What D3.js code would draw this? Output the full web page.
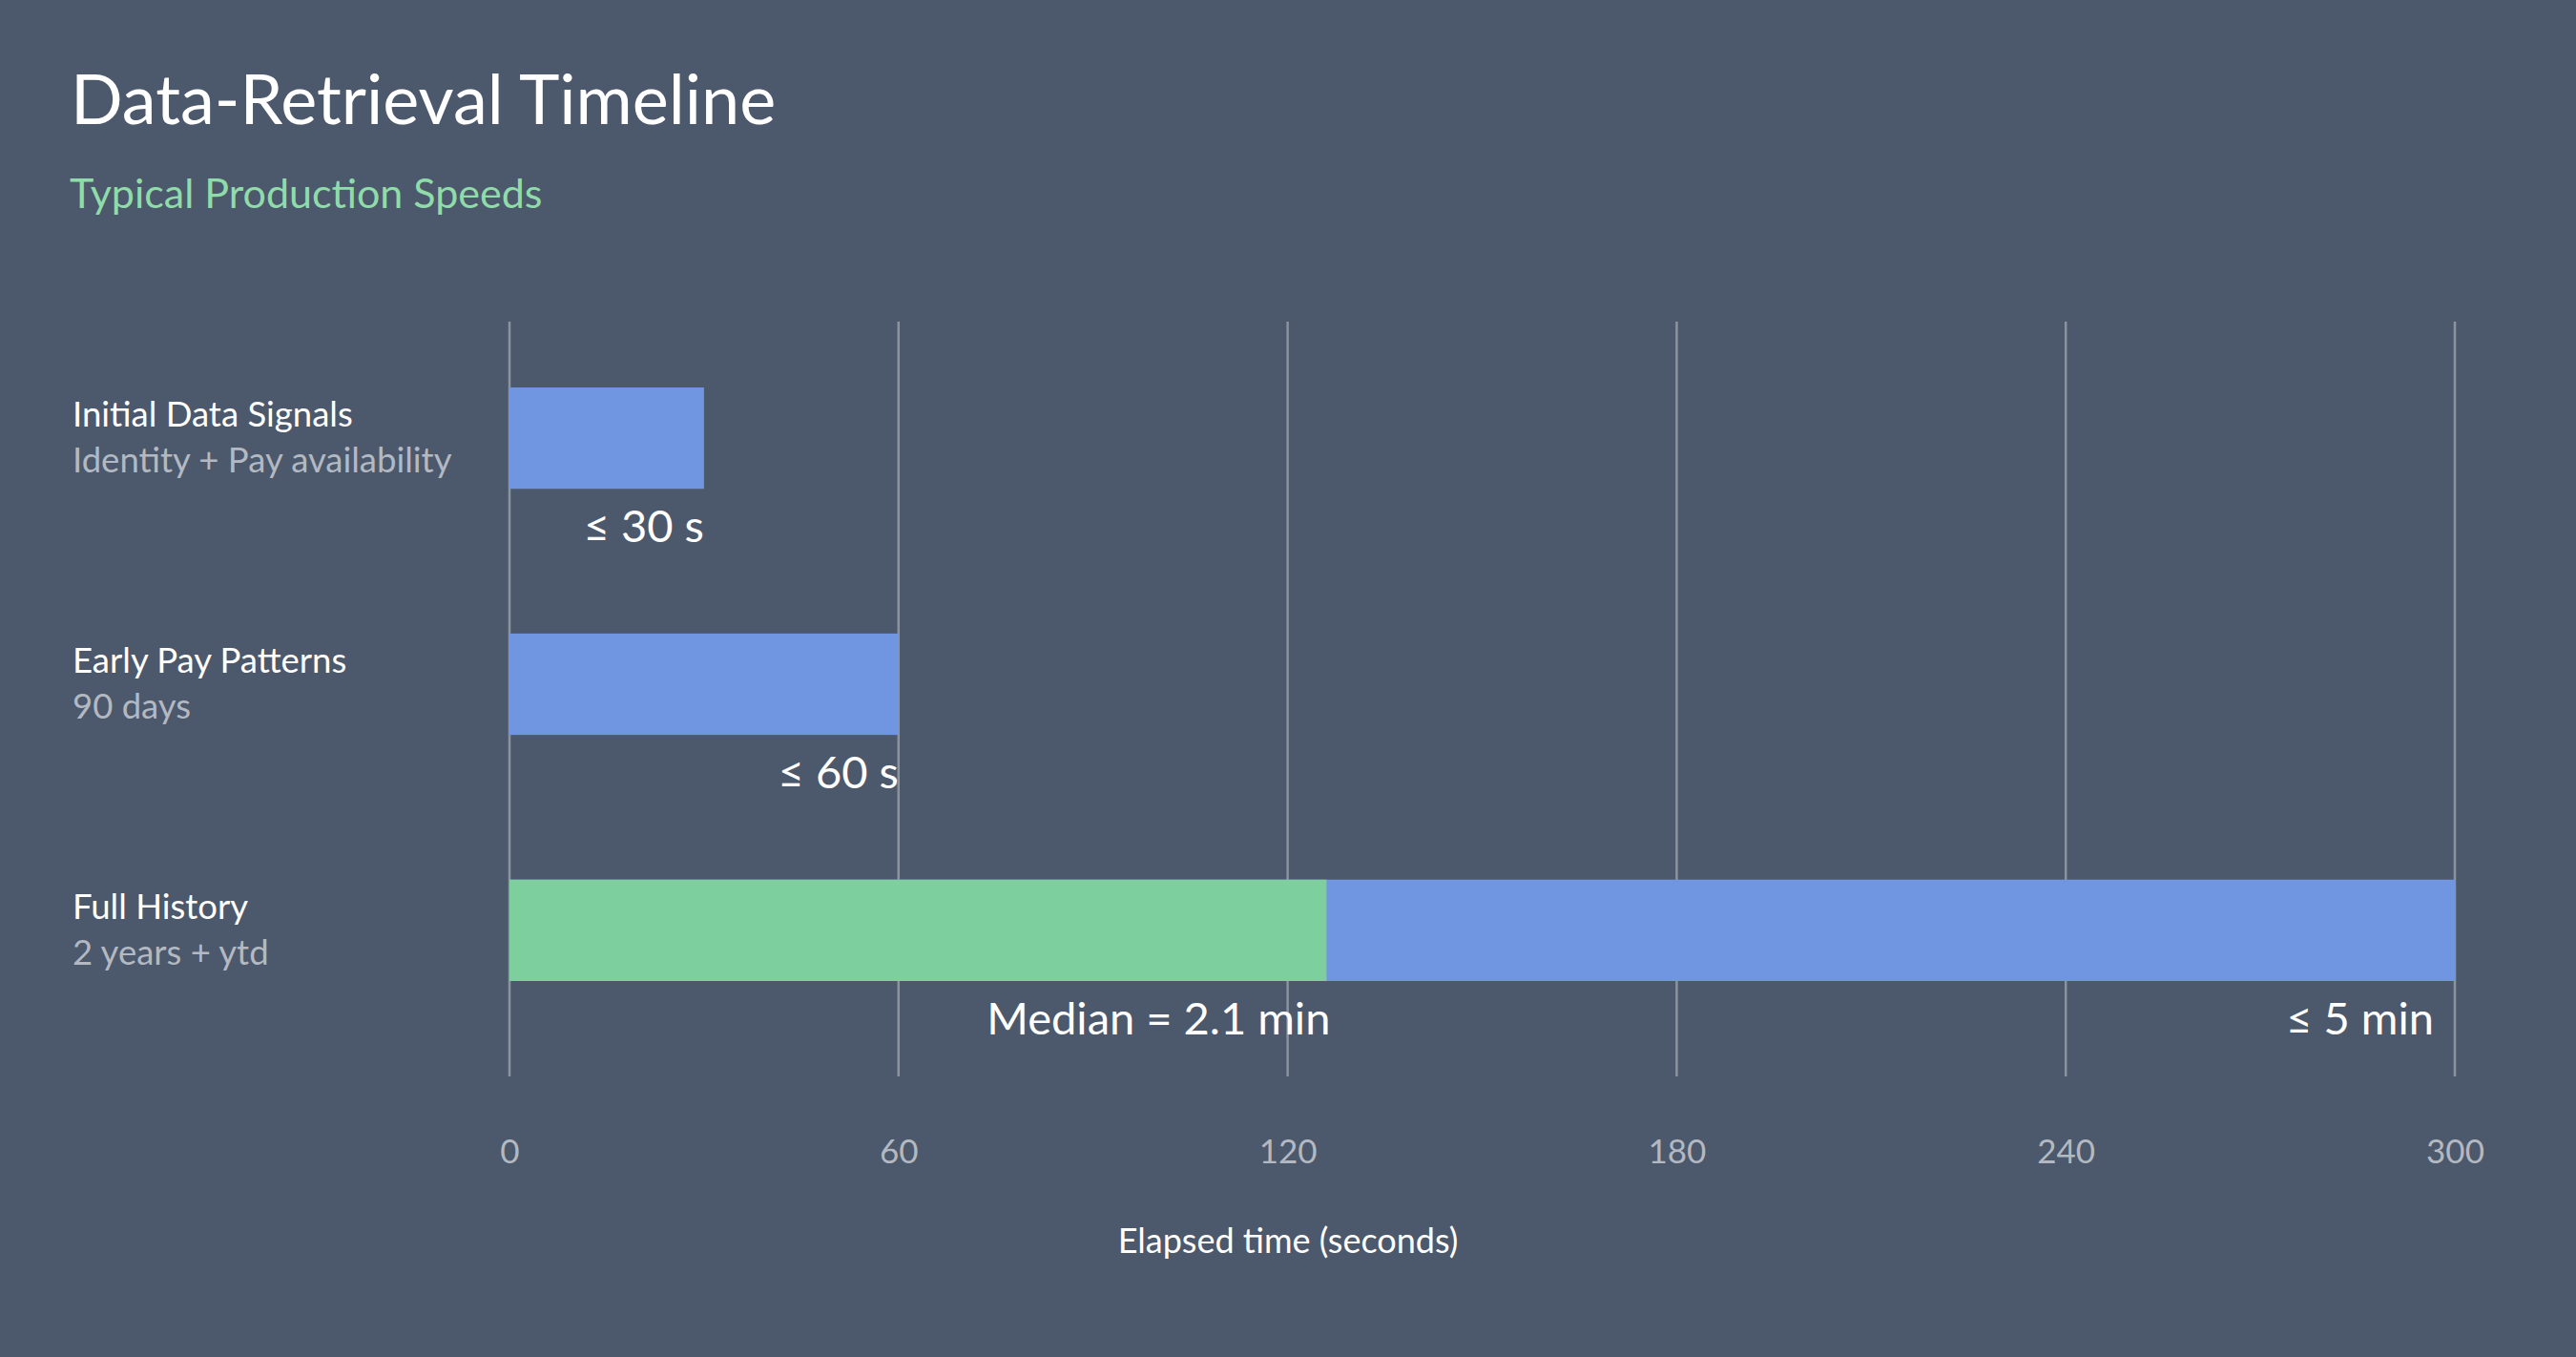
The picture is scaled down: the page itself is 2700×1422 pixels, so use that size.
<!DOCTYPE html>
<html><head><meta charset="utf-8">
<script src="https://cdn.jsdelivr.net/npm/d3@7"></script>
<style>body{margin:0;background:#4c586b;}svg{display:block;font-family:Lato,"Open Sans",sans-serif;}</style>
</head><body>
<script>
const categories = ["Initial Data Signals","Early Pay Patterns","Full History"];
const subtitles = ["Identity + Pay availability","90 days","2 years + ytd"];
const maxValues = [30,60,300];
const valueLabels = ["≤ 30 s","≤ 60 s","≤ 5 min"];
const medianValue = 126;
const medianLabel = "Median = 2.1 min";
const ticks = [0,60,120,180,240,300];

const W=2700,H=1422;
const svg=d3.select("body").append("svg").attr("width",W).attr("height",H);
svg.append("rect").attr("width",W).attr("height",H).attr("fill","#4c586b");
svg.append("text").attr("x",74).attr("y",130).attr("fill","#fff").attr("font-size",72).text("Data-Retrieval Timeline");
svg.append("text").attr("x",73).attr("y",218).attr("fill","#8fdcaa").attr("font-size",43).text("Typical Production Speeds");

const x=d3.scaleLinear().domain([0,300]).range([534,2573]);
const y=d3.scaleBand().domain(categories).range([406,1028]).paddingInner(0.588).paddingOuter(0);

svg.append("g").selectAll("line").data(ticks).join("line")
 .attr("x1",d=>x(d)).attr("x2",d=>x(d)).attr("y1",337).attr("y2",1128)
 .attr("stroke","#8a93a0").attr("stroke-width",2.5);

const g=svg.append("g");
g.selectAll("rect.b").data(categories).join("rect").attr("class","b")
 .attr("x",x(0)).attr("y",d=>y(d)).attr("width",(d,i)=>x(maxValues[i])-x(0)).attr("height",y.bandwidth()).attr("fill","#7096e1");
g.append("rect").attr("x",x(0)).attr("y",y(categories[2])).attr("width",x(medianValue)-x(0)).attr("height",y.bandwidth()).attr("fill","#7dcf9d");

g.selectAll("text.v").data(categories).join("text").attr("class","v")
 .attr("x",(d,i)=>i==2?x(maxValues[i])-22:x(maxValues[i])).attr("y",d=>y(d)+y.bandwidth()+56)
 .attr("text-anchor","end").attr("fill","#fff").attr("font-size",47).text((d,i)=>valueLabels[i]);
g.append("text").attr("x",x(medianValue)+4).attr("y",y(categories[2])+y.bandwidth()+56)
 .attr("text-anchor","end").attr("fill","#fff").attr("font-size",47).text(medianLabel);

g.selectAll("text.c").data(categories).join("text").attr("class","c")
 .attr("x",76).attr("y",d=>y(d)+41).attr("fill","#fff").attr("font-size",36.5).text(d=>d);
g.selectAll("text.s").data(categories).join("text").attr("class","s")
 .attr("x",76).attr("y",d=>y(d)+89).attr("fill","#b3b9c2").attr("font-size",36.5).text((d,i)=>subtitles[i]);

const ax=svg.append("g").attr("transform","translate(0,1180)").call(d3.axisBottom(x).tickValues(ticks).tickSize(0).tickPadding(0));
ax.select(".domain").remove();
ax.selectAll("text").attr("fill","#b3b9c2").attr("font-size",35).attr("font-family","Lato,sans-serif").attr("dy","1.1em");
svg.append("text").attr("x",W/2).attr("y",1313).attr("text-anchor","middle").attr("fill","#fff").attr("font-size",36).text("Elapsed time (seconds)");
</script>
</body></html>
